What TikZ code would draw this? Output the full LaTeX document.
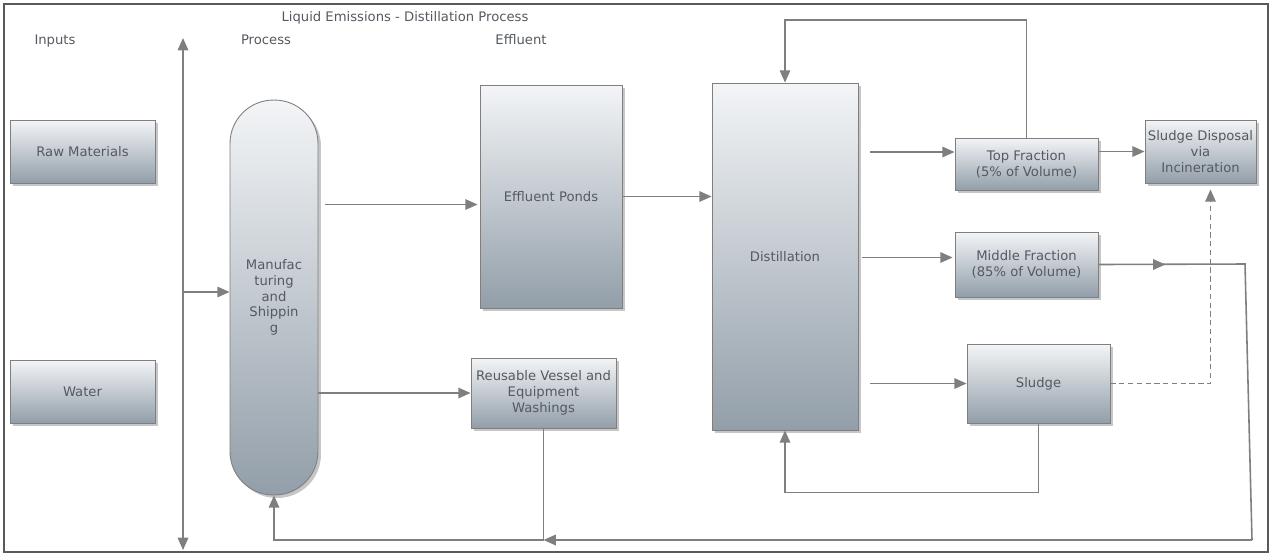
\documentclass[tikz,border=0pt]{standalone}
\usepackage{fontspec}
\setmainfont{DejaVu Sans}
\usetikzlibrary{arrows.meta,calc,shadows}
\definecolor{boxtop}{HTML}{F3F5F7}
\definecolor{boxbot}{HTML}{929EA9}
\definecolor{edge}{HTML}{7F7F7F}
\definecolor{ink}{HTML}{555A60}
\tikzset{
  box/.style={draw=edge, line width=0.5pt, top color=boxtop, bottom color=boxbot,
    drop shadow={shadow xshift=0.06cm, shadow yshift=-0.06cm, opacity=.45},
    text=ink, align=center, inner sep=1pt,
    font=\fontsize{7.5}{9}\selectfont},
  lbl/.style={text=ink, font=\fontsize{7.5}{9}\selectfont},
  line/.style={draw=edge, line width=0.9pt},
  flow/.style={line, -{Triangle[length=7pt,width=6pt]}}
}
\begin{document}
\begin{tikzpicture}[x=0.02cm, y=-0.02cm]
  \useasboundingbox (0,0) rectangle (1272,556);
  \draw[draw=edge!70!black, line width=1pt] (4,4) rectangle (1268,552);

  % headings
  \node[lbl] (title) at (405,18) {Liquid Emissions - Distillation Process};
  \node[lbl] (inputs) at (55,41) {Inputs};
  \node[lbl] (process) at (266,40) {Process};
  \node[lbl] (effluent) at (521,40) {Effluent};

  % boxes
  \node[box, minimum width=2.9cm, minimum height=1.26cm] (raw) at (82.5,151.5) {Raw Materials};
  \node[box, minimum width=2.9cm, minimum height=1.26cm] (water) at (82.5,391.5) {Water};
  \node[box, minimum width=1.76cm, minimum height=7.9cm, rounded corners=0.87cm] (manuf) at (274,297.5)
    {Manufac\\turing\\and\\Shippin\\g};
  \node[box, minimum width=2.84cm, minimum height=4.46cm] (ponds) at (551,196.5) {Effluent Ponds};
  \node[box, minimum width=2.9cm, minimum height=1.4cm] (reuse) at (543.5,393)
    {Reusable Vessel and\\Equipment\\Washings};
  \node[box, minimum width=2.92cm, minimum height=6.94cm] (dist) at (785,256.5) {Distillation};
  \node[box, minimum width=2.86cm, minimum height=1.04cm] (top) at (1026.5,164)
    {Top Fraction\\(5\% of Volume)};
  \node[box, minimum width=2.86cm, minimum height=1.3cm] (middle) at (1026.5,264.5)
    {Middle Fraction\\(85\% of Volume)};
  \node[box, minimum width=2.86cm, minimum height=1.58cm] (sludge) at (1038.5,383.5) {Sludge};
  \node[box, minimum width=2.22cm, minimum height=1.26cm] (disp) at (1200.5,151.5)
    {Sludge Disposal\\via\\Incineration};

  % helper points
  \coordinate (axtop) at (183,38);
  \coordinate (axbot) at (183,550);
  \coordinate (axmid) at (183,292);
  \coordinate (rc) at (1245,264);
  \coordinate (rb) at (1252,540);

  % connectors
  \draw[line, {Triangle[length=7pt,width=6pt]}-{Triangle[length=7pt,width=6pt]}] (axtop) -- (axbot);
  \draw[flow] (axmid) -- (manuf.west |- axmid);
  \draw[flow] ($(manuf.east |- ponds.west)+(7,8)$) -- ($(ponds.west)+(-2,8)$);
  \draw[flow] (manuf.east |- reuse.west) -- (reuse.west);
  \draw[flow] (ponds.east) -- (dist.west |- ponds.east);
  \draw[flow] ($(dist.east |- top.west)+(12,-12)$) -- ($(top.west)+(0,-12)$);
  \draw[flow] (top.east |- disp.west) -- (disp.west);
  \draw[flow] (top.north) -- (top.north |- 0,20) -| (dist.north);
  \draw[flow] ($(dist.east |- middle.west)+(4,-7)$) -- ($(middle.west)+(-2,-7)$);
  \draw[flow] (dist.east |- sludge.west) ++(12,0) -- (sludge.west);
  \draw[flow, densely dashed] (sludge.east) -| ($(disp.south)+(10,6)$);
  \draw[flow] (sludge.south) -- ++(0,69) -| (dist.south);

  % return to manufacturing
  \draw[line] (middle.east) -- (rc) -- (rb);
  \draw[flow] (middle.east) -- ++(67,0);
  \draw[flow] (rb) -- (reuse.south |- rb);
  \draw[line] (reuse.south) -- (reuse.south |- rb);
  \draw[flow] (reuse.south |- rb) -- (manuf.south |- rb) -- (manuf.south);
\end{tikzpicture}
\end{document}
